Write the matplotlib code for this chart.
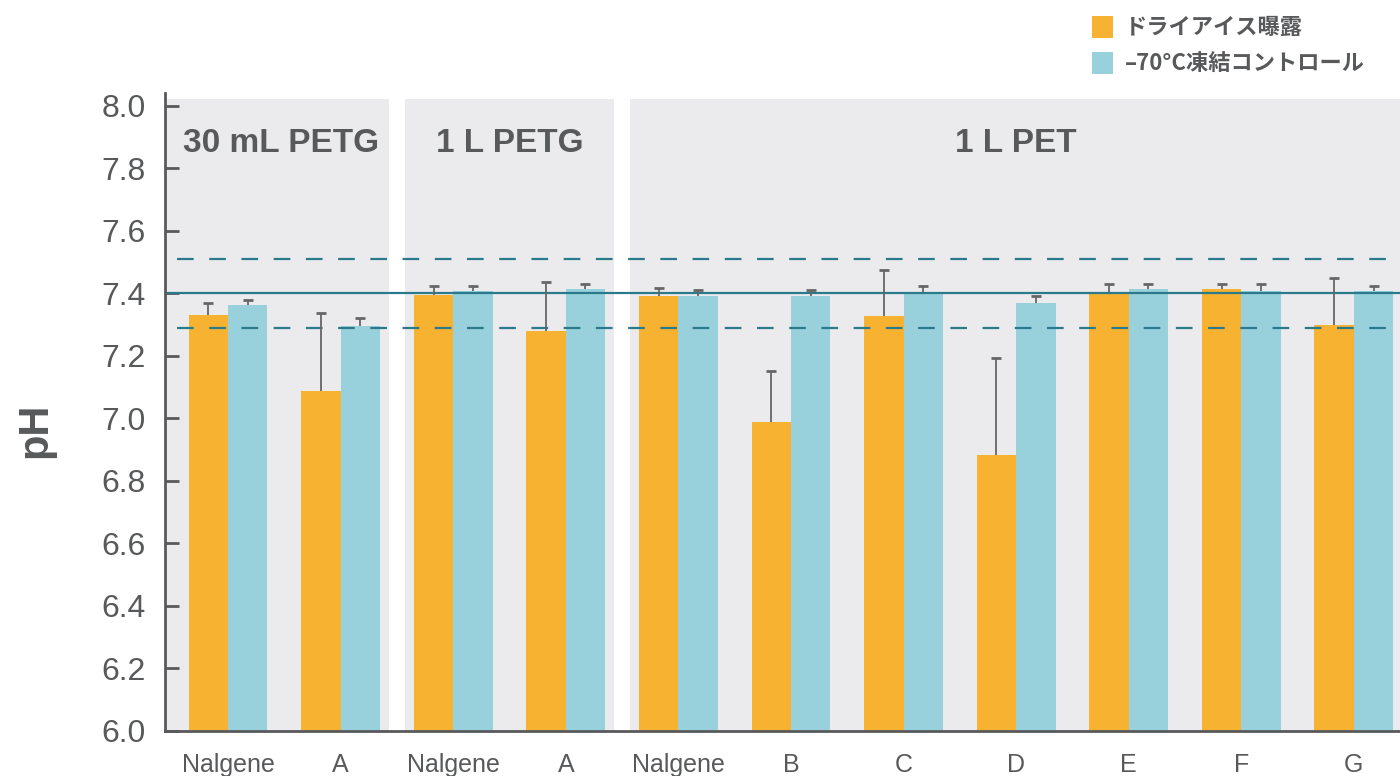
import matplotlib
matplotlib.use("Agg")
import matplotlib.pyplot as plt
from matplotlib.patches import Rectangle
import numpy as np

# ---- data ----
categories = ["Nalgene", "A", "Nalgene", "A", "Nalgene", "B", "C", "D", "E", "F", "G"]
dry_ice = [7.33, 7.086, 7.395, 7.278, 7.39, 6.987, 7.326, 6.882, 7.403, 7.412, 7.297]
dry_ice_err = [0.037, 0.25, 0.028, 0.158, 0.026, 0.163, 0.147, 0.31, 0.026, 0.017, 0.15]
control = [7.361, 7.294, 7.406, 7.412, 7.39, 7.39, 7.403, 7.367, 7.412, 7.406, 7.406]
control_err = [0.016, 0.026, 0.017, 0.017, 0.019, 0.019, 0.019, 0.023, 0.017, 0.023, 0.017]
panel_titles = ["30 mL PETG", "1 L PETG", "1 L PET"]
panel_groups = [(0, 1), (2, 3), (4, 10)]
ref_mean = 7.40
ref_upper = 7.51
ref_lower = 7.29
legend_labels = ["ドライアイス曝露", "\u201370°C凍結コントロール"]
yticks = [6.0, 6.2, 6.4, 6.6, 6.8, 7.0, 7.2, 7.4, 7.6, 7.8, 8.0]

ORANGE = "#F8B232"
CYAN = "#98D1DC"
PANEL = "#EBEBED"
TEAL = "#2B7A8C"
GREY = "#58595B"
ERR = "#666666"

plt.rcParams['font.family'] = ['Liberation Sans', 'DejaVu Sans']

fig = plt.figure(figsize=(14, 7.76), dpi=100)
ax = fig.add_axes([165/1400, 45/776, 1 - 165/1400, (731-93)/776])

x = np.arange(len(categories))
w = 0.35
xmin, xmax = -0.56, 10.41
ymin, ymax = 6.0, 8.04
ax.set_xlim(xmin, xmax)
ax.set_ylim(ymin, ymax)

# panel backgrounds
panel_top = 8.022
gap = 0.07
for i, (a, b) in enumerate(panel_groups):
    left = xmin if i == 0 else a - 0.5 + gap
    right = xmax + 0.5 if i == len(panel_groups) - 1 else b + 0.5 - gap
    ax.add_patch(Rectangle((left, ymin), right - left, panel_top - ymin,
                           facecolor=PANEL, edgecolor='none', zorder=0))
    ax.text((a + b) / 2 - (0.03 if i == 0 else 0), 7.88, panel_titles[i],
            ha='center', va='center',
            fontsize=24, fontweight='bold', color=GREY, zorder=5)

ax.bar(x - w/2, [v - ymin for v in dry_ice], w, bottom=ymin, color=ORANGE, zorder=2)
ax.bar(x + w/2, [v - ymin for v in control], w, bottom=ymin, color=CYAN, zorder=2)

ax.axhline(ref_mean, color=TEAL, lw=1.6, zorder=3)
ax.axhline(ref_upper, color=TEAL, lw=1.6, dashes=(7.5, 7), zorder=3, xmin=0.01)
ax.axhline(ref_lower, color=TEAL, lw=1.6, dashes=(7.5, 7), zorder=3, xmin=0.01)

for xs, vals, errs in [(x - w/2, dry_ice, dry_ice_err), (x + w/2, control, control_err)]:
    _, caps, _ = ax.errorbar(xs, vals, yerr=[np.zeros(len(x)), errs], fmt='none',
                             ecolor=ERR, elinewidth=1.3, capsize=3.6, capthick=2,
                             zorder=4)
    caps[0].set_visible(False)

# axes styling
for s in ['top', 'right']:
    ax.spines[s].set_visible(False)
for s in ['left', 'bottom']:
    ax.spines[s].set_color(GREY)
    ax.spines[s].set_linewidth(2)
    ax.spines[s].set_zorder(6)
ax.set_yticks(yticks)
ax.set_yticklabels([f"{t:.1f}" for t in yticks])
ax.tick_params(axis='y', direction='in', length=10, width=2, color=GREY,
               labelsize=23, labelcolor=GREY, pad=14)
ax.set_xticks(x)
ax.set_xticklabels(categories)
ax.tick_params(axis='x', length=0, labelsize=18, labelcolor=GREY, pad=16)
ax.set_facecolor('none')

fig.text(35/1400, 1 - 430/776, "pH", rotation=90, ha='center', va='center',
         fontsize=30, fontweight='bold', color=GREY)

# legend
for j, (lab, col) in enumerate(zip(legend_labels, [ORANGE, CYAN])):
    yc = 1 - (27 + 36*j)/776
    fig.patches.append(Rectangle((1092/1400, yc - 10.5/776), 21/1400, 21/776,
                                 transform=fig.transFigure, facecolor=col,
                                 edgecolor='none'))
    fig.text(1125/1400, yc, lab, ha='left', va='center', fontsize=16,
             fontweight='bold', color=GREY,
             family=['Noto Sans CJK JP', 'DejaVu Sans'])

fig.savefig("out.png", dpi=100)
